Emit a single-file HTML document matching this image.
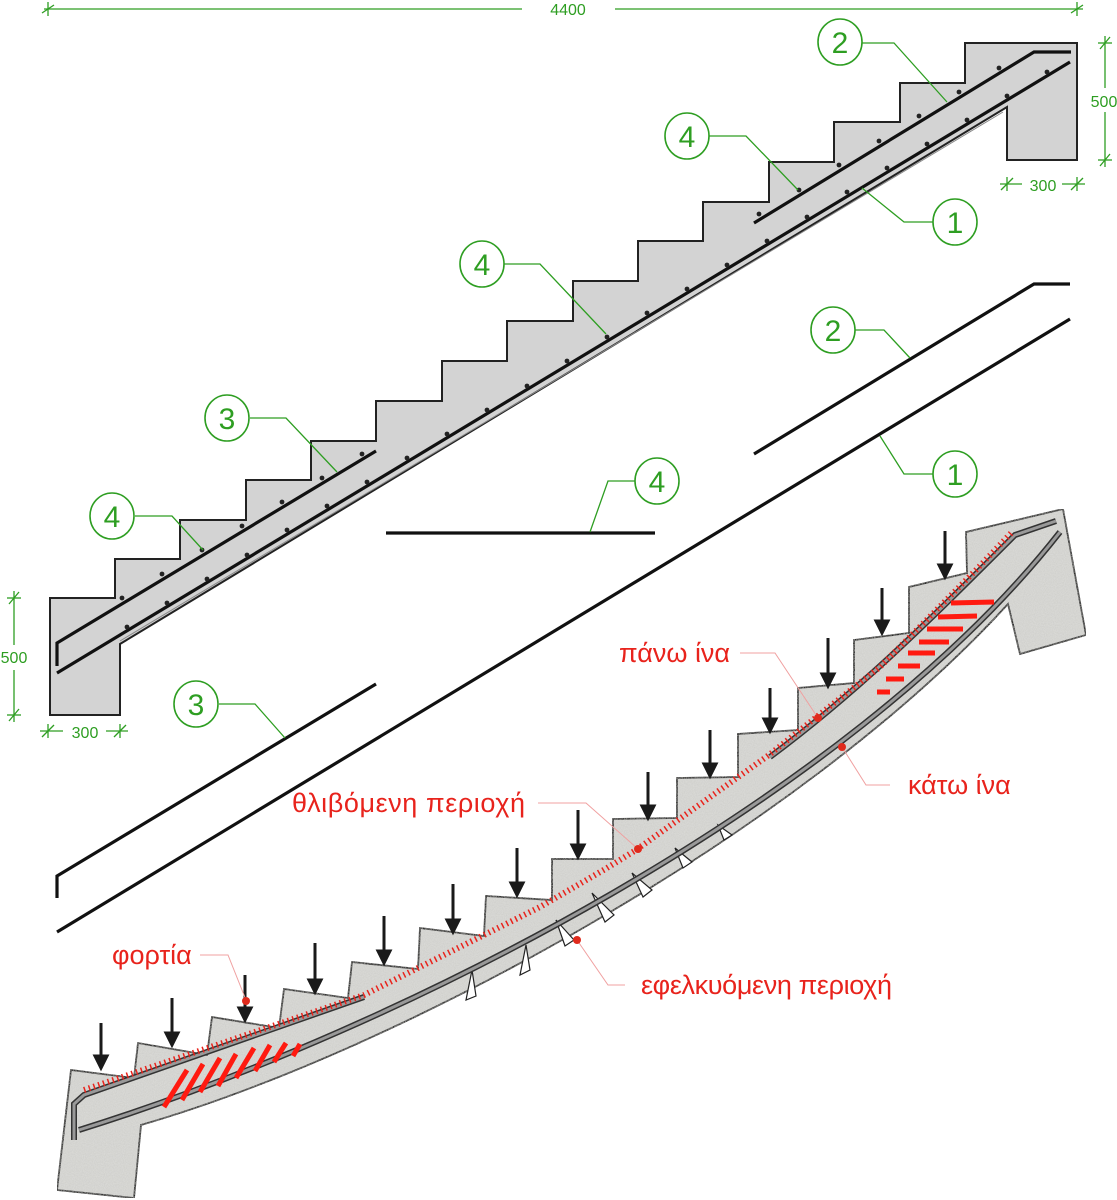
<!DOCTYPE html>
<html><head><meta charset="utf-8"><style>
html,body{margin:0;padding:0;background:#fff;}
svg{display:block;}
.g{fill:none;stroke:#2e9e22;stroke-width:1.3;}
.gt{fill:#2e9e22;font-family:"Liberation Sans",sans-serif;}
.ct{fill:#2e9e22;font-family:"Liberation Sans",sans-serif;font-size:30px;text-anchor:middle;}
.ce{fill:#fff;stroke:#2e9e22;stroke-width:1.6;}
.rt{fill:#e8231c;font-family:"Liberation Sans","DejaVu Sans",sans-serif;font-size:27px;}
.rl{fill:none;stroke:#f0a0a0;stroke-width:1;}
.bar{fill:none;stroke:#111;stroke-width:3.2;}
</style></head><body>
<svg width="1117" height="1200" viewBox="0 0 1117 1200" xmlns="http://www.w3.org/2000/svg">
<defs>
<filter id="tex" x="0" y="0" width="100%" height="100%">
<feTurbulence type="fractalNoise" baseFrequency="0.9" numOctaves="2" seed="3" result="n"/>
<feColorMatrix in="n" type="matrix" values="0 0 0 0 0.55  0 0 0 0 0.55  0 0 0 0 0.53  0 0 0 0.9 -0.25" result="c"/>
<feComposite in="c" in2="SourceGraphic" operator="in" result="m"/>
<feMerge><feMergeNode in="SourceGraphic"/><feMergeNode in="m"/></feMerge>
</filter>
</defs>

<g class="g">
<line x1="44" y1="9" x2="522" y2="9"/><line x1="615" y1="9" x2="1083" y2="9"/>
<line x1="48" y1="2" x2="48" y2="16"/><line x1="42" y1="13" x2="54" y2="5"/>
<line x1="1077" y1="2" x2="1077" y2="16"/><line x1="1071" y1="13" x2="1083" y2="5"/>
<line x1="1105" y1="36" x2="1105" y2="88"/><line x1="1105" y1="112" x2="1105" y2="167"/>
<line x1="1098" y1="43" x2="1112" y2="43"/><line x1="1100" y1="49" x2="1110" y2="37"/>
<line x1="1098" y1="160" x2="1112" y2="160"/><line x1="1100" y1="166" x2="1110" y2="154"/>
<line x1="1000" y1="184" x2="1022" y2="184"/><line x1="1062" y1="184" x2="1085" y2="184"/>
<line x1="1007" y1="177" x2="1007" y2="191"/><line x1="1001" y1="190" x2="1013" y2="178"/>
<line x1="1077" y1="177" x2="1077" y2="191"/><line x1="1071" y1="190" x2="1083" y2="178"/>
<line x1="14" y1="591" x2="14" y2="645"/><line x1="14" y1="670" x2="14" y2="722"/>
<line x1="7" y1="598" x2="21" y2="598"/><line x1="9" y1="604" x2="19" y2="592"/>
<line x1="7" y1="715" x2="21" y2="715"/><line x1="9" y1="721" x2="19" y2="709"/>
<line x1="40" y1="731" x2="63" y2="731"/><line x1="106" y1="731" x2="128" y2="731"/>
<line x1="48" y1="724" x2="48" y2="738"/><line x1="42" y1="737" x2="54" y2="725"/>
<line x1="120" y1="724" x2="120" y2="738"/><line x1="114" y1="737" x2="126" y2="725"/>
</g>
<text class="gt" x="568" y="15" font-size="16" text-anchor="middle">4400</text>
<text class="gt" x="1104" y="107" font-size="16" text-anchor="middle">500</text>
<text class="gt" x="1043" y="191" font-size="16" text-anchor="middle">300</text>
<text class="gt" x="14" y="663" font-size="16" text-anchor="middle">500</text>
<text class="gt" x="85" y="738" font-size="16" text-anchor="middle">300</text>

<polygon fill="#d3d3d3" stroke="#222" stroke-width="2" points="50,598 115,598 115,559 180,559 180,520 246,520 246,480 311,480 311,441 376,441 376,401 442,401 442,361 507,361 507,321 573,321 573,281 638,281 638,241 703,241 703,202 769,202 769,162 834,162 834,122 900,122 900,83 965,83 965,43 1077,43 1077,160 1007,160 1007,107 120,644 120,715 50,715"/>
<line x1="120" y1="641" x2="1003" y2="112" stroke="#888" stroke-width="1"/>
<polyline class="bar" points="57,666 57,643 376,451"/>
<line class="bar" x1="57" y1="673" x2="1070" y2="62"/>
<polyline class="bar" points="754,223 1034,52 1071,52"/>
<g fill="#222">
<circle cx="122" cy="598" r="2.4"/><circle cx="162" cy="574" r="2.4"/><circle cx="202" cy="550" r="2.4"/><circle cx="242" cy="526" r="2.4"/><circle cx="282" cy="502" r="2.4"/><circle cx="322" cy="478" r="2.4"/><circle cx="362" cy="454" r="2.4"/>
<circle cx="127" cy="627" r="2.4"/><circle cx="167" cy="603" r="2.4"/><circle cx="207" cy="579" r="2.4"/><circle cx="247" cy="555" r="2.4"/><circle cx="287" cy="530" r="2.4"/><circle cx="327" cy="506" r="2.4"/><circle cx="367" cy="482" r="2.4"/><circle cx="407" cy="458" r="2.4"/><circle cx="447" cy="434" r="2.4"/><circle cx="487" cy="410" r="2.4"/><circle cx="527" cy="386" r="2.4"/><circle cx="567" cy="361" r="2.4"/><circle cx="607" cy="337" r="2.4"/><circle cx="647" cy="313" r="2.4"/><circle cx="687" cy="289" r="2.4"/><circle cx="727" cy="265" r="2.4"/><circle cx="767" cy="241" r="2.4"/><circle cx="807" cy="217" r="2.4"/><circle cx="847" cy="192" r="2.4"/><circle cx="887" cy="168" r="2.4"/><circle cx="927" cy="144" r="2.4"/><circle cx="967" cy="120" r="2.4"/><circle cx="1007" cy="96" r="2.4"/><circle cx="1047" cy="72" r="2.4"/>
<circle cx="759" cy="214" r="2.4"/><circle cx="799" cy="190" r="2.4"/><circle cx="839" cy="165" r="2.4"/><circle cx="879" cy="141" r="2.4"/><circle cx="919" cy="116" r="2.4"/><circle cx="959" cy="92" r="2.4"/><circle cx="999" cy="68" r="2.4"/>
</g>

<polyline class="bar" points="754,454 1034,284 1070,284"/>
<line class="bar" x1="57" y1="932" x2="1070" y2="319"/>
<line class="bar" x1="386" y1="533" x2="655" y2="533"/>
<polyline class="bar" points="57,898 57,876 376,684"/>

<g class="g">
<polyline points="862,43 894,43 947,102"/>
<polyline points="709,136 746,136 798,190"/>
<polyline points="933,222 904,222 862,188"/>
<polyline points="504,264 540,264 606,334"/>
<polyline points="250,418 286,418 337,472"/>
<polyline points="135,516 172,516 203,550"/>
<polyline points="855,330 884,330 910,358"/>
<polyline points="933,474 904,474 880,436"/>
<polyline points="635,481 608,481 590,532"/>
<polyline points="219,704 255,704 285,738"/>
</g>
<g>
<ellipse class="ce" cx="840" cy="42" rx="22" ry="23"/><text class="ct" x="840" y="53">2</text>
<ellipse class="ce" cx="687" cy="136" rx="22" ry="23"/><text class="ct" x="687" y="147">4</text>
<ellipse class="ce" cx="955" cy="222" rx="22" ry="23"/><text class="ct" x="955" y="233">1</text>
<ellipse class="ce" cx="482" cy="264" rx="22" ry="23"/><text class="ct" x="482" y="275">4</text>
<ellipse class="ce" cx="227" cy="418" rx="22" ry="23"/><text class="ct" x="227" y="429">3</text>
<ellipse class="ce" cx="112" cy="516" rx="22" ry="23"/><text class="ct" x="112" y="527">4</text>
<ellipse class="ce" cx="833" cy="330" rx="22" ry="23"/><text class="ct" x="833" y="341">2</text>
<ellipse class="ce" cx="955" cy="474" rx="22" ry="23"/><text class="ct" x="955" y="485">1</text>
<ellipse class="ce" cx="657" cy="481" rx="22" ry="23"/><text class="ct" x="657" y="492">4</text>
<ellipse class="ce" cx="196" cy="704" rx="22" ry="23"/><text class="ct" x="196" y="715">3</text>
</g>

<!-- deformed stair -->
<path fill="#d9d9d6" stroke="#222" stroke-width="1.8" filter="url(#tex)" d="M71,1070 L134,1078 138,1043 207,1055 212,1017 279,1028 284,989 348,998 352,962 418,969 420,928 484,936 486,896 552,900 552,859 613,859 613,819 677,818 677,778 738,777 738,734 798,730 798,688 854,683 854,640 909,633 909,587 967,573 966,532 1063,509 1086,635 1020,654 1008,604 C800,832 400,1050 141,1125 L134,1198 57,1190 Z"/>
<!-- cracks -->
<g fill="#fff" stroke="#222" stroke-width="1.2">
<polygon points="466,1000 472,970 476,996"/>
<polygon points="520,975 526,945 530,970"/>
<polygon points="565,946 556,920 574,940"/>
<polygon points="605,922 592,893 614,915"/>
<polygon points="643,897 632,873 652,890"/>
<polygon points="683,868 675,848 692,862"/>
<polygon points="724,840 718,825 732,835"/>
</g>
<path fill="none" stroke="#333" stroke-width="6" d="M74,1140 L74,1104 84,1095 364,997"/>
<path fill="none" stroke="#999" stroke-width="3" d="M74,1140 L74,1104 84,1095 364,997"/>
<path fill="none" stroke="#333" stroke-width="6" d="M79,1130 C400,1030 850,800 1060,532"/>
<path fill="none" stroke="#999" stroke-width="3" d="M79,1130 C400,1030 850,800 1060,532"/>
<path fill="none" stroke="#333" stroke-width="6" d="M770,757 C860,690 930,620 1015,535 L1056,521"/>
<path fill="none" stroke="#999" stroke-width="3" d="M770,757 C860,690 930,620 1015,535 L1056,521"/>
<polyline fill="none" stroke="#e8231c" stroke-width="6" stroke-dasharray="1.5 3.5" points="84,1090 364,995 540,907 607,868 636,850 769,755 819,715 880,667 976,570 1013,531"/>
<g stroke="#ff1a10" stroke-width="5">
<line x1="164" y1="1107" x2="187" y2="1070"/><line x1="182" y1="1100" x2="203" y2="1064"/>
<line x1="200" y1="1092" x2="220" y2="1058"/><line x1="218" y1="1086" x2="236" y2="1054"/>
<line x1="236" y1="1078" x2="254" y2="1048"/><line x1="255" y1="1071" x2="270" y2="1045"/>
<line x1="274" y1="1062" x2="286" y2="1043"/><line x1="293" y1="1056" x2="300" y2="1044"/>
<line x1="951" y1="603" x2="994" y2="602"/><line x1="938" y1="617" x2="977" y2="616"/>
<line x1="927" y1="629" x2="963" y2="629"/><line x1="919" y1="642" x2="949" y2="642"/>
<line x1="908" y1="653" x2="935" y2="653"/><line x1="898" y1="666" x2="920" y2="666"/>
<line x1="886" y1="679" x2="904" y2="679"/><line x1="877" y1="692" x2="890" y2="692"/>
</g>
<g stroke="#1a1a1a" stroke-width="3" fill="#1a1a1a">
<line x1="101" y1="1023" x2="101" y2="1058"/><polygon points="95,1056 107,1056 101,1068"/>
<line x1="172" y1="998" x2="172" y2="1035"/><polygon points="166,1033 178,1033 172,1045"/>
<line x1="245" y1="975" x2="245" y2="1010"/><polygon points="239,1008 251,1008 245,1020"/>
<line x1="315" y1="943" x2="315" y2="982"/><polygon points="309,980 321,980 315,992"/>
<line x1="384" y1="916" x2="384" y2="953"/><polygon points="378,951 390,951 384,963"/>
<line x1="453" y1="884" x2="453" y2="922"/><polygon points="447,920 459,920 453,932"/>
<line x1="517" y1="848" x2="517" y2="885"/><polygon points="511,883 523,883 517,895"/>
<line x1="578" y1="810" x2="578" y2="847"/><polygon points="572,845 584,845 578,857"/>
<line x1="648" y1="772" x2="648" y2="808"/><polygon points="642,806 654,806 648,818"/>
<line x1="710" y1="730" x2="710" y2="766"/><polygon points="704,764 716,764 710,776"/>
<line x1="770" y1="688" x2="770" y2="721"/><polygon points="764,719 776,719 770,731"/>
<line x1="828" y1="638" x2="828" y2="676"/><polygon points="822,674 834,674 828,686"/>
<line x1="882" y1="588" x2="882" y2="623"/><polygon points="876,621 888,621 882,633"/>
<line x1="945" y1="531" x2="945" y2="567"/><polygon points="939,565 951,565 945,577"/>
</g>
<g class="rl">
<polyline points="200,955 228,955 246,1000"/>
<polyline points="740,653 775,653 818,718"/>
<polyline points="890,785 866,785 842,747"/>
<polyline points="538,803 586,803 638,849"/>
<polyline points="625,985 608,985 577,940"/>
</g>
<g fill="#e02a1c">
<circle cx="246" cy="1001" r="4"/><circle cx="818" cy="718" r="4"/><circle cx="842" cy="747" r="4"/><circle cx="638" cy="849" r="4"/><circle cx="577" cy="940" r="4"/>
</g>
<text class="rt" x="112" y="964">φορτία</text>
<text class="rt" x="619" y="662">πάνω ίνα</text>
<text class="rt" x="908" y="794">κάτω ίνα</text>
<text class="rt" x="292" y="812" textLength="233">θλιβόμενη περιοχή</text>
<text class="rt" x="641" y="994" textLength="251">εφελκυόμενη περιοχή</text>
</svg>
</body></html>
